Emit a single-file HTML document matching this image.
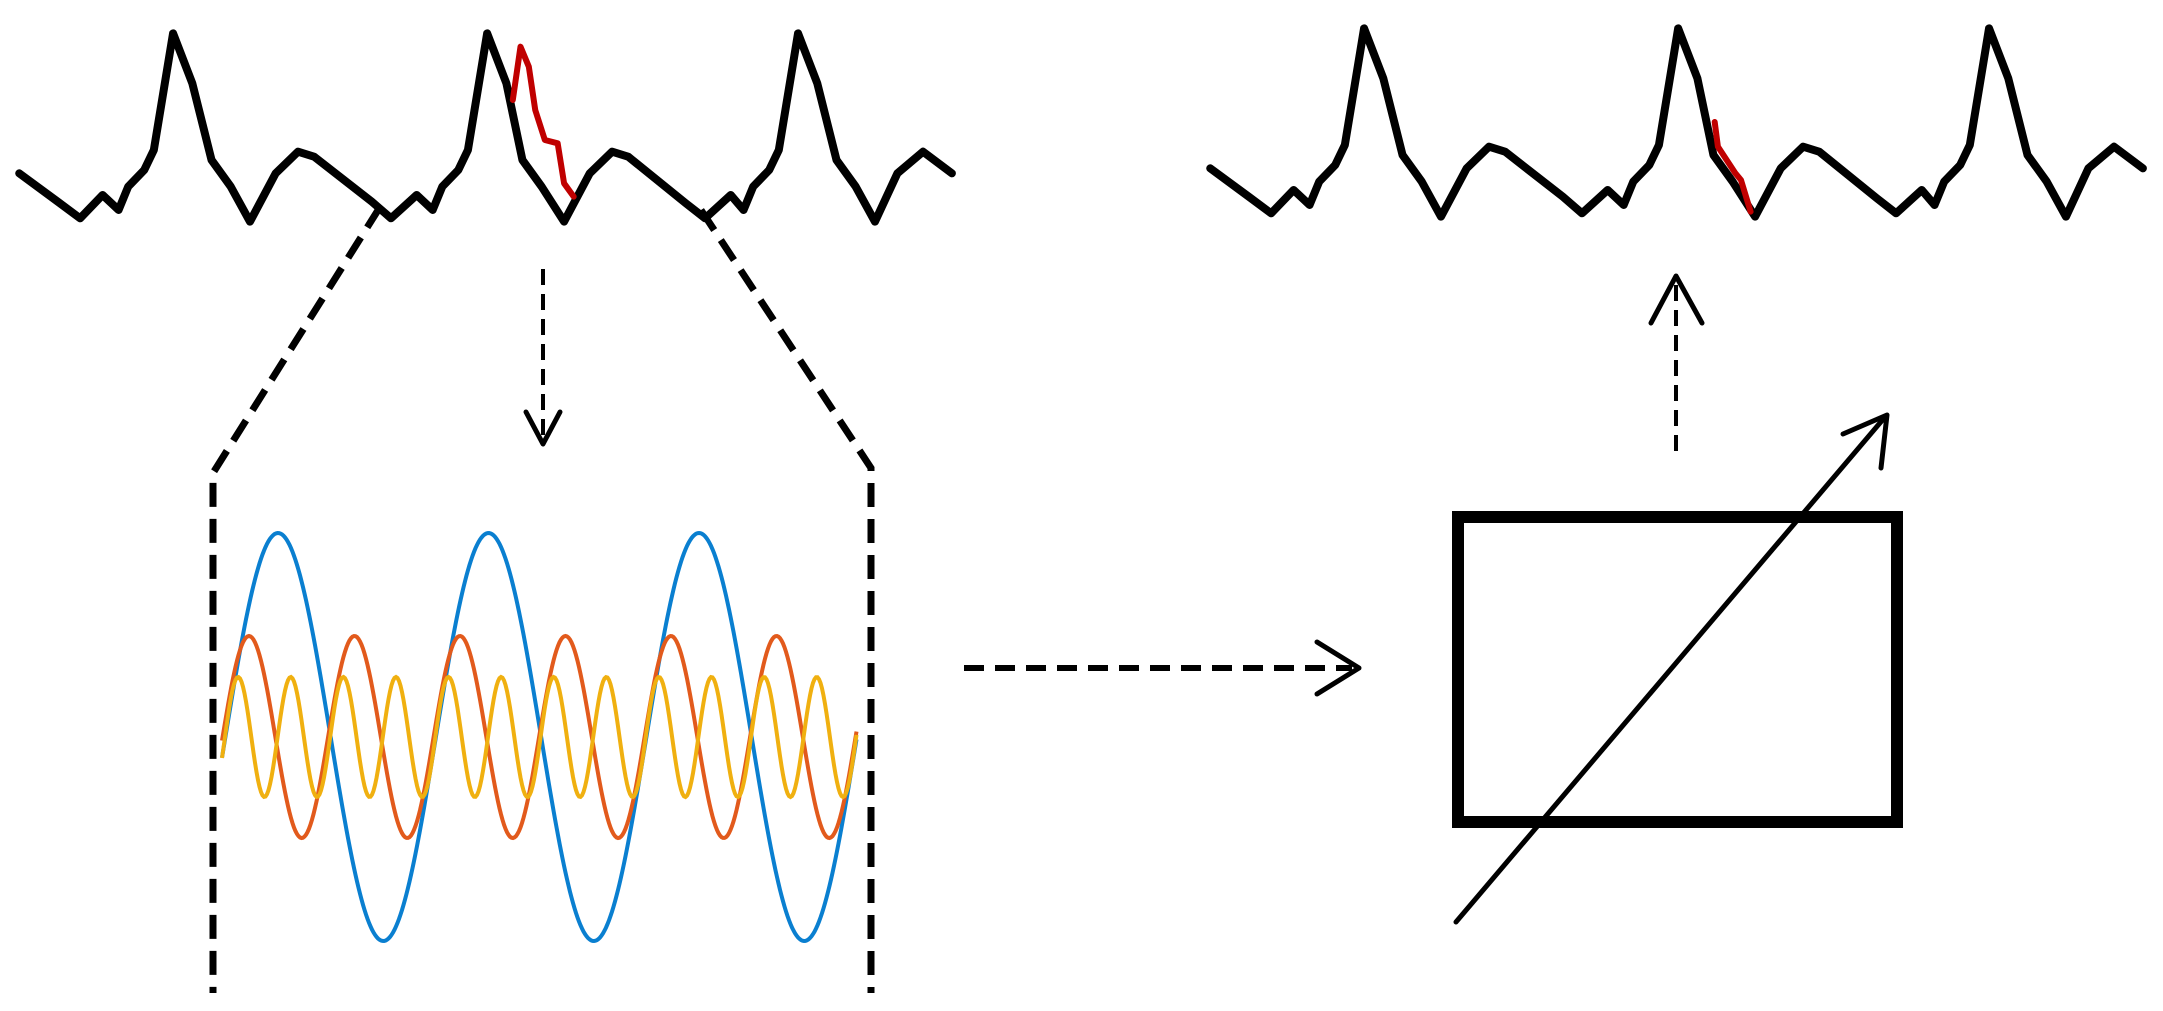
<!DOCTYPE html>
<html><head><meta charset="utf-8"><style>html,body{margin:0;padding:0;background:#fff;}svg{display:block}</style></head>
<body>
<svg width="2163" height="1011" viewBox="0 0 2163 1011" xmlns="http://www.w3.org/2000/svg">
<defs>
<g id="ecg">
<polyline fill="none" stroke="#000" stroke-width="8" stroke-linejoin="round" stroke-linecap="round" vector-effect="non-scaling-stroke"
points="30,520 90,605 125,655 160,585 185,630 200,560 225,510 240,450 270,100 300,250 330,480 360,560 390,665 430,520 465,455 490,470 580,605 610,655 650,585 675,630 690,560 715,510 730,450 760,100 790,250 815,480 845,560 880,665 920,520 955,455 980,470 1070,610 1100,655 1140,585 1160,630 1175,560 1200,510 1215,450 1245,100 1275,250 1305,480 1335,560 1365,665 1400,520 1440,455 1485,520"/>
</g>
</defs>
<g transform="scale(0.641,0.3333)"><use href="#ecg"/>
<polyline fill="none" stroke="#c00000" stroke-width="6" stroke-linejoin="round" stroke-linecap="round" vector-effect="non-scaling-stroke"
points="800,300 812,140 825,200 835,330 850,420 870,430 880,550 895,590"/></g>
<g transform="translate(1191,-5) scale(0.641,0.3333)"><use href="#ecg"/>
<polyline fill="none" stroke="#c00000" stroke-width="6" stroke-linejoin="round" stroke-linecap="round" vector-effect="non-scaling-stroke"
points="817,381 822,455 849,534 858,555 873,650"/></g>

<g fill="none" stroke="#000" stroke-width="7" stroke-dasharray="24,12">
<polyline points="380,207 213,473 213,993"/>
<polyline points="701,210 871,468 871,993"/>
</g>
<line x1="543" y1="269" x2="543" y2="440" stroke="#000" stroke-width="4" stroke-dasharray="16,9"/>
<polyline points="526,412 543,444 560,412" fill="none" stroke="#000" stroke-width="5" stroke-linecap="round" stroke-linejoin="round"/>

<path id="blue" fill="none" stroke="#0a7fd0" stroke-width="4"/>
<path id="red" fill="none" stroke="#e25a1c" stroke-width="4"/>
<path id="yel" fill="none" stroke="#f0b010" stroke-width="4"/>

<line x1="964" y1="668" x2="1352" y2="668" stroke="#000" stroke-width="6" stroke-dasharray="20,11"/>
<polyline points="1317,642 1359,668 1317,694" fill="none" stroke="#000" stroke-width="5" stroke-linecap="round" stroke-linejoin="round"/>
<line x1="1676" y1="451" x2="1676" y2="280" stroke="#000" stroke-width="4" stroke-dasharray="16,9"/>
<polyline points="1651,323 1676,276 1702,323" fill="none" stroke="#000" stroke-width="5" stroke-linecap="round" stroke-linejoin="round"/>
<rect x="1458" y="517" width="439" height="305" fill="none" stroke="#000" stroke-width="12"/>
<line x1="1456" y1="922" x2="1885" y2="417" stroke="#000" stroke-width="5" stroke-linecap="round"/>
<polyline points="1843,434 1887,415 1881,468" fill="none" stroke="#000" stroke-width="5" stroke-linecap="round" stroke-linejoin="round"/>
</svg>
<script>
function mk(id,A,P,x0){var d="";for(var x=222;x<=857;x+=1.5){var y=737-A*Math.sin(2*Math.PI*(x-x0)/P);d+=(d?"L":"M")+x.toFixed(1)+","+y.toFixed(1);}document.getElementById(id).setAttribute("d",d);}
mk("blue",204,210.5,225.4);
mk("red",101,105.5,222.6);
mk("yel",60,52.6,225);
</script>
</body></html>
